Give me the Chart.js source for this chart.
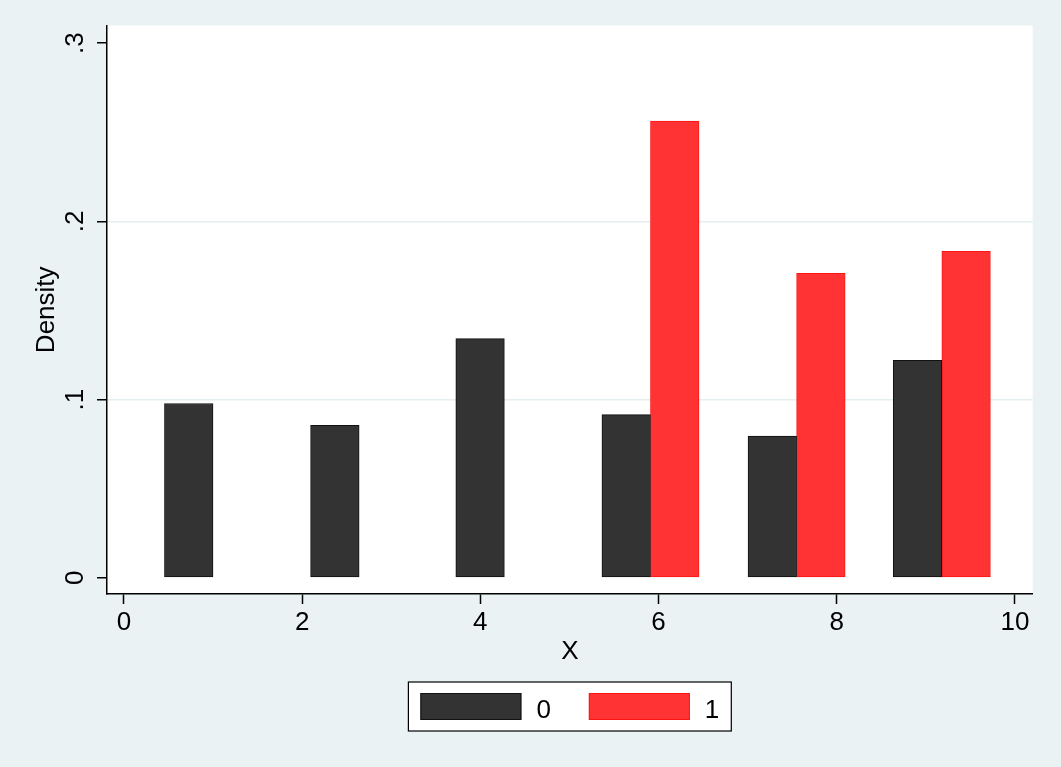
<!DOCTYPE html>
<html>
<head>
<meta charset="utf-8">
<script src="https://cdn.jsdelivr.net/npm/chart.js@4/dist/chart.umd.min.js"></script>
<style>
  html, body { margin: 0; padding: 0; background: #eaf2f3; }
  #c { display: block; }
</style>
</head>
<body>
<canvas id="c" width="1061" height="767"></canvas>
<script>
// Histogram of X by group: bin centres and the density of each group per bin
const binCenters = [1.00, 2.64, 4.27, 5.91, 7.55, 9.18];
const barWidth = 0.545;                      // width of one group's bar, in X units
const density0 = [0.0978, 0.0856, 0.1342, 0.0916, 0.0795, 0.1221];
const density1 = [null, null, null, 0.2563, 0.1709, 0.1832];
const groupLabels = ['0', '1'];
const xTicks = [0, 2, 4, 6, 8, 10];
const yTicks = [0, 0.1, 0.2, 0.3];
const yTickLabels = ['0', '.1', '.2', '.3'];

const FONT = '"Liberation Sans", Arial, Helvetica, sans-serif';
const FONT_SIZE = 26;
const BG = '#eaf2f3';

function points(values, shift) {
  const out = [];
  values.forEach((v, i) => {
    if (v !== null) out.push({ x: binCenters[i] + shift, y: v });
  });
  return out;
}

// Page background plus white plot region
const backdrop = {
  id: 'backdrop',
  beforeDraw(chart) {
    const { ctx, chartArea: a } = chart;
    ctx.save();
    ctx.fillStyle = BG;
    ctx.fillRect(0, 0, chart.width, chart.height);
    ctx.fillStyle = '#ffffff';
    ctx.fillRect(a.left, a.top, a.right - a.left, a.bottom - a.top);
    ctx.restore();
  }
};

// Framed legend centred under the plot region
const framedLegend = {
  id: 'framedLegend',
  afterDraw(chart) {
    const { ctx, chartArea: a } = chart;
    const sw = 101, sh = 27, gap = 15, itemGap = 38, pad = 12;
    ctx.save();
    ctx.font = FONT_SIZE + 'px ' + FONT;
    const items = chart.data.datasets.map(ds => ({
      ds, w: sw + gap + ctx.measureText(ds.label).width
    }));
    const content = items.reduce((s, it) => s + it.w, 0) + itemGap * (items.length - 1);
    const boxW = content + pad * 2, boxH = 49;
    const cx = (a.left + a.right) / 2;
    const bx = cx - boxW / 2, by = 682;
    ctx.fillStyle = '#ffffff';
    ctx.fillRect(bx, by, boxW, boxH);
    ctx.strokeStyle = '#000000';
    ctx.lineWidth = 1.2;
    ctx.strokeRect(bx, by, boxW, boxH);
    let x = bx + pad;
    const sy = by + (boxH - sh) / 2;
    items.forEach(it => {
      ctx.fillStyle = it.ds.backgroundColor;
      ctx.fillRect(x, sy, sw, sh);
      ctx.strokeStyle = it.ds.borderColor;
      ctx.lineWidth = 1;
      ctx.strokeRect(x + 0.5, sy + 0.5, sw - 1, sh - 1);
      ctx.fillStyle = '#000000';
      ctx.textBaseline = 'alphabetic';
      ctx.textAlign = 'left';
      ctx.fillText(it.ds.label, x + sw + gap, by + 36);
      x += it.w + itemGap;
    });
    ctx.restore();
  }
};

new Chart(document.getElementById('c'), {
  type: 'bar',
  data: {
    datasets: [
      {
        label: groupLabels[0],
        data: points(density0, -barWidth / 2),
        backgroundColor: '#333333',
        borderColor: '#111111',
        borderWidth: 1,
        borderSkipped: false
      },
      {
        label: groupLabels[1],
        data: points(density1, barWidth / 2),
        backgroundColor: '#ff3333',
        borderColor: '#ff1414',
        borderWidth: 1,
        borderSkipped: false
      }
    ]
  },
  options: {
    responsive: false,
    animation: false,
    devicePixelRatio: 1,
    grouped: false,
    barPercentage: 1,
    categoryPercentage: 1,
    layout: { padding: { left: 0, top: 25, right: 28.3, bottom: 87 } },
    plugins: {
      legend: { display: false },
      tooltip: { enabled: false }
    },
    scales: {
      x: {
        type: 'linear',
        offset: false,
        min: -0.19,
        max: 10.2,
        afterBuildTicks: s => { s.ticks = xTicks.map(v => ({ value: v })); },
        afterFit: s => { s.height = 86; },
        ticks: {
          color: '#000000',
          font: { family: FONT, size: FONT_SIZE },
          padding: 3,
          maxRotation: 0,
          autoSkip: false
        },
        grid: {
          offset: false,
          drawOnChartArea: false,
          tickLength: 10,
          tickColor: '#000000',
          tickWidth: 1.5
        },
        border: { color: '#000000', width: 1.5 },
        title: {
          display: true,
          text: 'X',
          color: '#000000',
          font: { family: FONT, size: FONT_SIZE },
          padding: { top: 0, bottom: 13 }
        }
      },
      y: {
        type: 'linear',
        min: -0.0091,
        max: 0.3099,
        afterBuildTicks: s => { s.ticks = yTicks.map(v => ({ value: v })); },
        afterFit: s => { s.width = 107; },
        ticks: {
          color: '#000000',
          font: { family: FONT, size: FONT_SIZE },
          padding: 10,
          minRotation: 90,
          maxRotation: 90,
          crossAlign: 'center',
          autoSkip: false,
          callback: v => yTickLabels[yTicks.indexOf(v)]
        },
        grid: {
          color: c => (c.tick && c.tick.value > 0 && c.tick.value < 0.3) ? '#e4edef' : 'rgba(0,0,0,0)',
          lineWidth: 1.5,
          tickLength: 10,
          tickColor: '#000000',
          tickWidth: 1.5
        },
        border: { color: '#000000', width: 1.5 },
        title: {
          display: true,
          text: 'Density',
          color: '#000000',
          font: { family: FONT, size: FONT_SIZE },
          padding: { top: 31, bottom: 0 }
        }
      }
    }
  },
  plugins: [backdrop, framedLegend]
});
</script>
</body>
</html>
